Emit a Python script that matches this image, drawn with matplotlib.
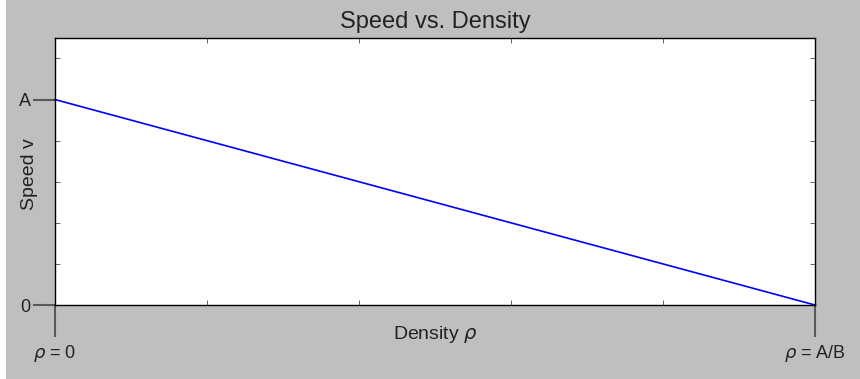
import matplotlib
matplotlib.use("Agg")
import matplotlib.pyplot as plt
from matplotlib.ticker import FixedLocator, FixedFormatter, MultipleLocator
from matplotlib.patches import Rectangle

# linear speed-density model v = A - B*rho, with A = B = 1
A = 1.0
B = 1.0
rho = [0.0, A / B]
speed = [A, 0.0]

x_marks = [0.0, A / B]
x_mark_labels = [r"$\rho$ = 0", r"$\rho$ = A/B"]
y_marks = [0.0, A]
y_mark_labels = ["0", "A"]

plt.rcParams["font.family"] = ["Liberation Sans", "DejaVu Sans"]

fig = plt.figure(figsize=(8.6, 3.79), dpi=100, facecolor="#bfbfbf")
fig.patches.append(Rectangle((0, 0), 6 / 860, 1, transform=fig.transFigure,
                             facecolor="white", edgecolor="none", zorder=-1))
ax = fig.add_axes([0.064, 0.195, 0.884, 0.705])

ax.plot(rho, speed, color="blue", linewidth=1.2, clip_on=False)
ax.set_xlim(0, A / B)
ax.set_ylim(0, 1.3 * A)

for s in ax.spines.values():
    s.set_linewidth(1.0)
    s.set_color("black")

# plain inward ticks on every side
ax.xaxis.set_major_locator(MultipleLocator(0.2))
ax.yaxis.set_major_locator(MultipleLocator(0.2))
ax.tick_params(which="major", direction="in", length=3.5, width=0.6, color="0.3",
               top=True, right=True, labelbottom=False, labelleft=False)

# long labelled ticks at the intercepts
ax.xaxis.remove_overlapping_locs = False
ax.yaxis.remove_overlapping_locs = False
ax.xaxis.set_minor_locator(FixedLocator(x_marks))
ax.xaxis.set_minor_formatter(FixedFormatter(x_mark_labels))
ax.yaxis.set_minor_locator(FixedLocator(y_marks))
ax.yaxis.set_minor_formatter(FixedFormatter(y_mark_labels))
ax.tick_params(axis="x", which="minor", direction="out", length=23, width=1.5,
               color="0.35", pad=4, labelsize=13, labelcolor="#222222",
               top=False)
ax.tick_params(axis="y", which="minor", direction="out", length=16, width=1.5,
               color="0.35", pad=1.5, labelsize=13, labelcolor="#222222",
               right=False)

ax.set_title("Speed vs. Density", fontsize=17, color="#222222", pad=7)
ax.set_xlabel(r"Density $\rho$", fontsize=14, color="#222222")
ax.xaxis.set_label_coords(0.5, -0.072)
ax.xaxis.label.set_va("top")
ax.set_ylabel("Speed v", fontsize=14, color="#222222")
ax.yaxis.set_label_coords(-0.022, 0.49)

fig.savefig("out.png", dpi=100, facecolor=fig.get_facecolor())
